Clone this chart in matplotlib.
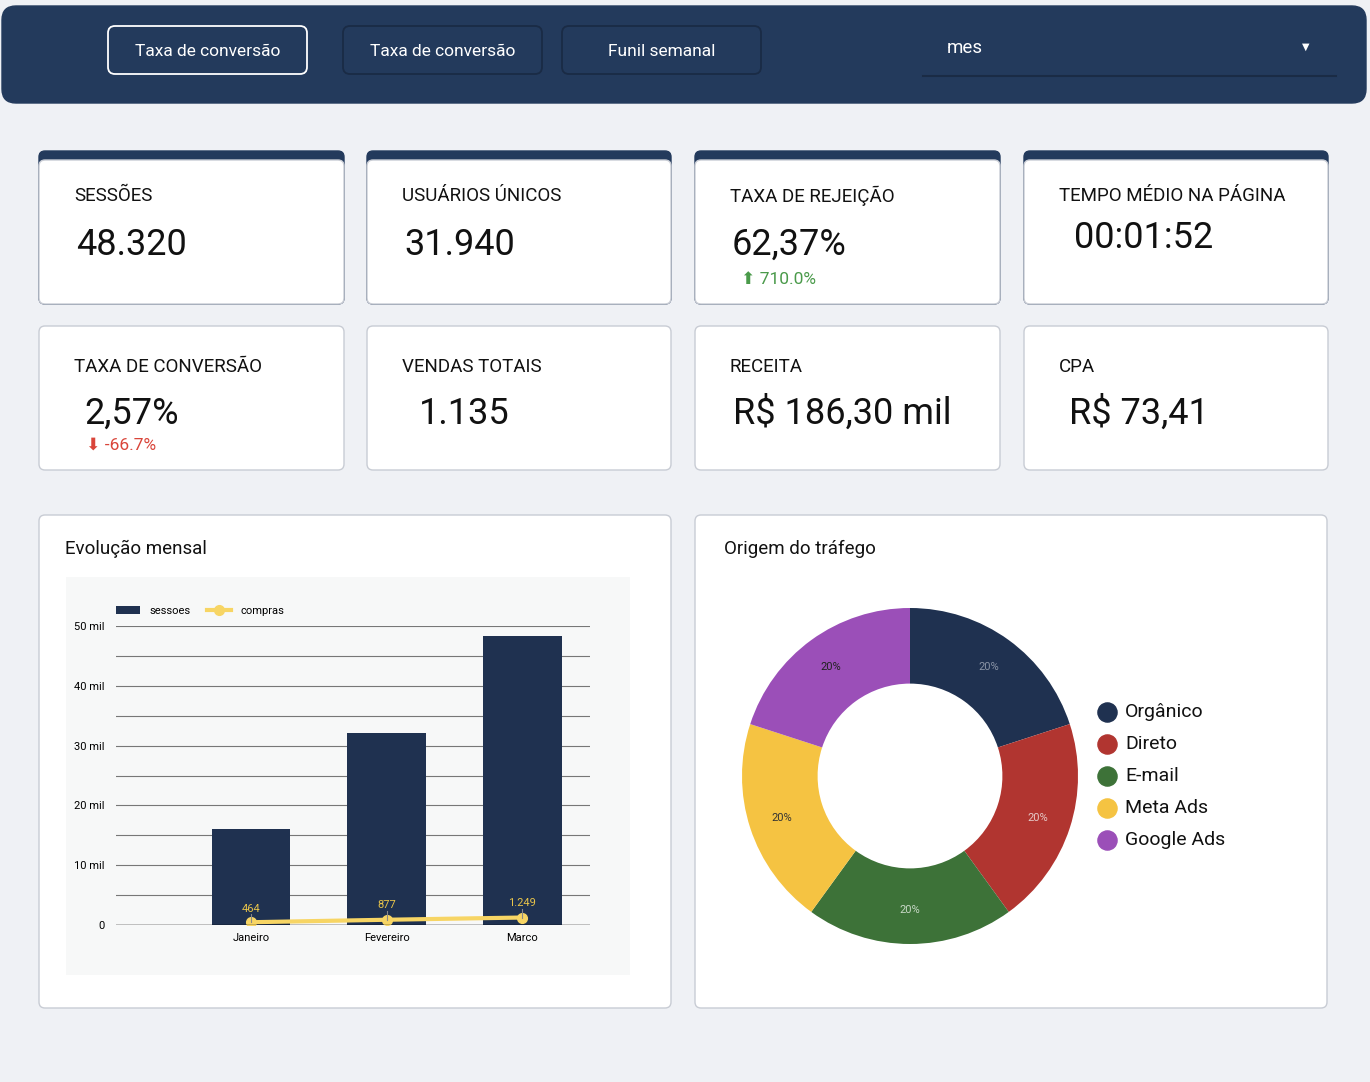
import matplotlib
matplotlib.use("Agg")
import matplotlib.pyplot as plt
from matplotlib.patches import FancyBboxPatch, Rectangle
import numpy as np

plt.rcParams['font.family'] = ['Roboto', 'DejaVu Sans']

# dados
meses = ['Janeiro', 'Fevereiro', 'Marco']
sessoes = [16100, 32100, 48300]
compras = [464, 877, 1249]
compras_labels = ['464', '877', '1.249']

origens = ['Orgânico', 'Direto', 'E-mail', 'Meta Ads', 'Google Ads']
origem_vals = [20, 20, 20, 20, 20]
origem_cores = ['#1f3150', '#b13530', '#3d7238', '#f5c342', '#9b4fb8']

kpi_titulos = ['SESSÕES', 'USUÁRIOS ÚNICOS', 'TAXA DE REJEIÇÃO', 'TEMPO MÉDIO NA PÁGINA',
               'TAXA DE CONVERSÃO', 'VENDAS TOTAIS', 'RECEITA', 'CPA']
kpi_valores = ['48.320', '31.940', '62,37%', '00:01:52',
               '2,57%', '1.135', 'R$ 186,30 mil', 'R$ 73,41']
botoes = ['Taxa de conversão', 'Taxa de conversão', 'Funil semanal']

NAVY = '#233a5c'
W, H = 1370, 1082
fig = plt.figure(figsize=(W / 100, H / 100), dpi=100)
fig.patch.set_facecolor('#eff1f5')

bg = fig.add_axes([0, 0, 1, 1])
bg.set_xlim(0, W)
bg.set_ylim(H, 0)
bg.axis('off')


def card(x0, y0, x1, y1, fc='white', ec='#c8ccd4', r=6, lw=1, z=1):
    bg.add_patch(FancyBboxPatch((x0, y0), x1 - x0, y1 - y0,
                                boxstyle=f"round,pad=0,rounding_size={r}",
                                fc=fc, ec=ec, lw=lw, zorder=z))


# cabeçalho
card(2, 6, 1366, 103, fc=NAVY, ec=NAVY, r=14)
bx = [(108, 307), (343, 542), (562, 761)]
for i, (a, b) in enumerate(bx):
    card(a, 26, b, 74, fc=NAVY, ec='white' if i == 0 else '#1a2b45', r=7, lw=1.3, z=2)
    bg.text((a + b) / 2, 51, botoes[i], color='white', fontsize=12.5, ha='center', va='center', zorder=3)
bg.add_patch(Rectangle((923, 18), 413, 58, fc=NAVY, ec='none', zorder=2))
bg.plot([923, 1336], [76, 76], color='#1a2b45', lw=1.5, zorder=3)
bg.text(947, 48, 'mes', color='white', fontsize=13.5, va='center', zorder=3)
bg.text(1306, 47, '▼', color='white', fontsize=7, ha='center', va='center', zorder=3)

# KPIs
cols = [(39, 344), (367, 671), (695, 1000), (1024, 1328)]
for i in range(4):
    a, b = cols[i]
    card(a, 151, b, 304, fc=NAVY, ec=NAVY, r=6)
    card(a, 160, b, 304)
    bg.text(a + 35, 196, kpi_titulos[i], fontsize=13.5, va='center', color='#111')
    bg.text(a + 37 if i < 3 else a + 50, 245 if i < 3 else 238, kpi_valores[i], fontsize=26, va='center', color='#111')
for i in range(4):
    a, b = cols[i]
    card(a, 326, b, 470)
    bg.text(a + 35, 367, kpi_titulos[4 + i], fontsize=13.5, va='center', color='#111')
    bg.text(a + 45 if i in (0, 3) else a + 52 if i == 1 else a + 38, 414, kpi_valores[4 + i],
            fontsize=26, va='center', color='#111')
bg.text(741, 280, '⬆ 710.0%', fontsize=12.5, va='center', color='#4a9a4a')
bg.text(86, 445, '⬇ -66.7%', fontsize=12.5, va='center', color='#d9453a')

# painéis dos gráficos
card(39, 515, 671, 1008)
card(695, 515, 1327, 1008)
bg.text(65, 549, 'Evolução mensal', fontsize=13.5, va='center', color='#111')
bg.text(724, 549, 'Origem do tráfego', fontsize=13.5, va='center', color='#111')
bg.add_patch(Rectangle((66, 577), 564, 398, fc='#f7f8f8', ec='none', zorder=2))


def ax_px(x0, y0, x1, y1):
    return fig.add_axes([x0 / W, 1 - y1 / H, (x1 - x0) / W, (y1 - y0) / H])


# barras
ax = ax_px(116, 626, 590, 925)
ax.set_facecolor('none')
x = np.arange(len(meses))
hb = ax.bar(x, sessoes, width=0.58, color='#1f3150', zorder=2, label='sessoes')
hl, = ax.plot(x, compras, color='#f7d564', lw=3, marker='o', ms=7, zorder=3, label='compras')
for xi, v, lab in zip(x, compras, compras_labels):
    ax.plot([xi, xi], [v, v + 1400], color='#888', lw=0.8, zorder=3)
    ax.text(xi, v + 1600 + (0 if lab != '464' else -300), lab, color='#e8c44a', fontsize=8, ha='center', va='bottom', zorder=4)
ax.set_xlim(-0.996, 2.5)
ax.set_ylim(0, 50000)
ax.set_yticks(np.arange(0, 50001, 5000))
ax.set_yticklabels(['0' if v == 0 else (f'{v // 1000} mil' if v % 10000 == 0 else '') for v in range(0, 50001, 5000)])
ax.grid(axis='y', color='#777', lw=0.8, zorder=0)
ax.tick_params(length=0, labelsize=8, pad=8)
ax.set_xticks(x)
ax.set_xticklabels(meses)
ax.tick_params(axis='x', pad=6)
for s in ax.spines.values():
    s.set_visible(False)
ax.axhline(0, color='black', lw=1, zorder=4)
ax.legend([hb, hl], ['sessoes', 'compras'], loc='lower left', bbox_to_anchor=(-0.01, 1.02), ncol=2,
          frameon=False, fontsize=8, handlelength=2.2, columnspacing=1.5, borderaxespad=0)

# rosca
ax2 = ax_px(742, 608, 1078, 944)
ax2.pie(origem_vals, colors=origem_cores, startangle=90, counterclock=False, radius=1,
        wedgeprops=dict(width=0.45, edgecolor='none'))
ang = 90 - np.cumsum([0] + origem_vals[:-1]) * 3.6 - origem_vals[0] * 1.8
lab_cor = ['#8a94a6', '#e6c8c6', '#c8d8c6', '#333', '#222']
for a, c in zip(np.radians(ang), lab_cor):
    ax2.text(0.8 * np.cos(a), 0.8 * np.sin(a), '20%', fontsize=8, ha='center', va='center', color=c)
ax2.set_aspect('equal')
ax2.set_xlim(-1, 1)
ax2.set_ylim(-1, 1)
for i, (o, c) in enumerate(zip(origens, origem_cores)):
    y = 712 + 32 * i
    bg.scatter([1107], [y], s=190, color=c, zorder=3)
    bg.text(1125, y, o, fontsize=14, va='center', color='#111')

fig.savefig('out.png', dpi=100, facecolor=fig.get_facecolor())
